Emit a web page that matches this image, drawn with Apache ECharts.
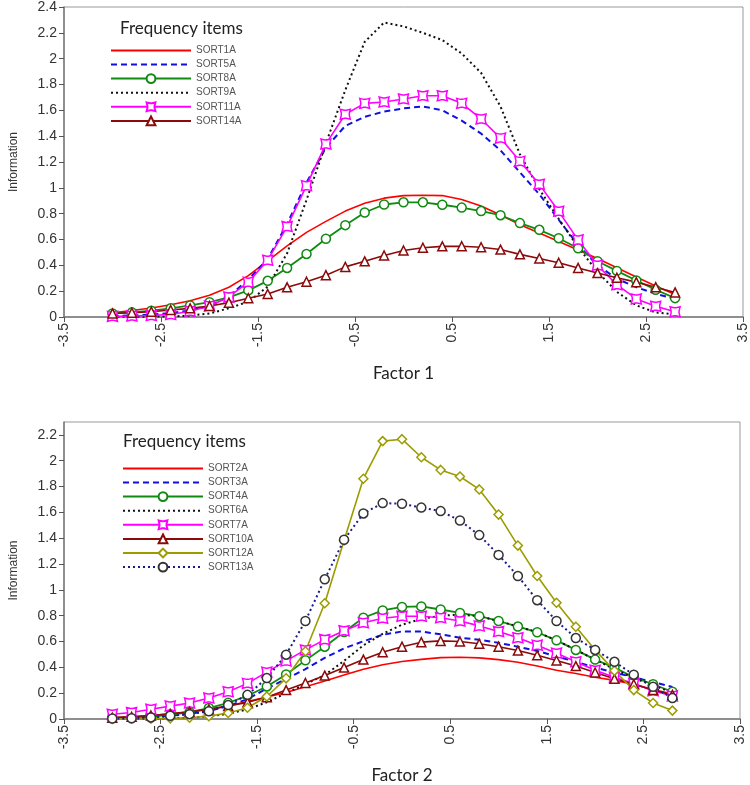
<!DOCTYPE html>
<html>
<head>
<meta charset="utf-8">
<script src="https://cdn.jsdelivr.net/npm/echarts@6/dist/echarts.min.js"></script>
<style>
html,body{margin:0;padding:0;background:#fff;}
#chart{width:750px;height:785px;}
</style>
</head>
<body>
<div id="chart"></div>
<script>
// ---- data ----
const xValues = [-3.0,-2.8,-2.6,-2.4,-2.2,-2.0,-1.8,-1.6,-1.4,-1.2,-1.0,-0.8,-0.6,-0.4,-0.2,0.0,0.2,0.4,0.6,0.8,1.0,1.2,1.4,1.6,1.8,2.0,2.2,2.4,2.6,2.8];
const xTickLabels = [-3.5,-2.5,-1.5,-0.5,0.5,1.5,2.5,3.5];
const yTicksTop = [0,0.2,0.4,0.6,0.8,1,1.2,1.4,1.6,1.8,2,2.2,2.4];
const yTicksBottom = [0,0.2,0.4,0.6,0.8,1,1.2,1.4,1.6,1.8,2,2.2];

// Factor 1
const SORT1A  = [0.033,0.05,0.07,0.095,0.126,0.168,0.23,0.32,0.435,0.55,0.655,0.74,0.82,0.88,0.92,0.94,0.942,0.94,0.91,0.86,0.79,0.715,0.65,0.584,0.519,0.453,0.382,0.31,0.24,0.175];
const SORT5A  = [0.008,0.012,0.018,0.03,0.05,0.085,0.16,0.29,0.45,0.72,1.04,1.31,1.48,1.55,1.59,1.615,1.63,1.6,1.52,1.42,1.29,1.12,0.95,0.753,0.557,0.40,0.296,0.231,0.179,0.14];
const SORT8A  = [0.028,0.036,0.049,0.067,0.09,0.115,0.152,0.206,0.28,0.38,0.488,0.606,0.711,0.809,0.871,0.888,0.888,0.869,0.847,0.82,0.788,0.727,0.675,0.61,0.532,0.432,0.357,0.283,0.211,0.146];
const SORT9A  = [0.001,0.002,0.003,0.005,0.01,0.028,0.067,0.119,0.235,0.493,0.906,1.345,1.757,2.13,2.28,2.25,2.2,2.144,2.04,1.89,1.63,1.26,0.99,0.76,0.54,0.35,0.195,0.09,0.035,0.02];
const SORT11A = [0.005,0.008,0.012,0.02,0.045,0.085,0.155,0.27,0.44,0.70,1.017,1.34,1.57,1.654,1.665,1.688,1.713,1.713,1.654,1.533,1.385,1.205,1.027,0.818,0.597,0.40,0.25,0.14,0.083,0.04];
const SORT14A = [0.028,0.033,0.041,0.054,0.067,0.085,0.111,0.145,0.178,0.23,0.273,0.324,0.388,0.431,0.476,0.515,0.536,0.547,0.548,0.54,0.522,0.485,0.453,0.42,0.38,0.34,0.304,0.27,0.231,0.19];

// Factor 2
const SORT2A  = [0.012,0.018,0.027,0.04,0.055,0.075,0.1,0.135,0.17,0.205,0.25,0.295,0.34,0.385,0.42,0.445,0.462,0.475,0.478,0.473,0.46,0.44,0.41,0.378,0.353,0.323,0.299,0.269,0.229,0.194];
const SORT3A  = [0.006,0.01,0.016,0.026,0.04,0.062,0.1,0.154,0.236,0.311,0.386,0.473,0.547,0.602,0.652,0.678,0.677,0.656,0.63,0.613,0.59,0.56,0.527,0.485,0.443,0.398,0.36,0.323,0.286,0.249];
const SORT4A  = [0.008,0.012,0.018,0.032,0.053,0.085,0.125,0.18,0.252,0.345,0.454,0.56,0.674,0.784,0.841,0.868,0.872,0.848,0.821,0.796,0.759,0.716,0.672,0.609,0.535,0.46,0.398,0.323,0.269,0.211];
const SORT6A  = [0.001,0.002,0.003,0.006,0.01,0.02,0.04,0.075,0.13,0.2,0.27,0.34,0.45,0.57,0.66,0.73,0.775,0.8,0.808,0.796,0.759,0.716,0.672,0.609,0.535,0.46,0.386,0.316,0.261,0.204];
const SORT7A  = [0.037,0.05,0.075,0.1,0.124,0.162,0.211,0.276,0.363,0.45,0.535,0.615,0.684,0.746,0.78,0.796,0.796,0.784,0.759,0.721,0.678,0.629,0.572,0.51,0.443,0.378,0.323,0.274,0.219,0.179];
const SORT10A = [0.01,0.017,0.027,0.04,0.055,0.075,0.1,0.129,0.169,0.224,0.279,0.336,0.398,0.46,0.517,0.56,0.595,0.605,0.6,0.583,0.56,0.53,0.493,0.453,0.41,0.36,0.311,0.269,0.224,0.187];
const SORT12A = [0.001,0.002,0.003,0.005,0.01,0.022,0.047,0.087,0.174,0.315,0.525,0.896,1.383,1.861,2.152,2.167,2.027,1.929,1.878,1.778,1.583,1.343,1.107,0.90,0.714,0.535,0.373,0.224,0.124,0.065];
const SORT13A = [0.004,0.006,0.012,0.025,0.037,0.06,0.108,0.187,0.317,0.498,0.759,1.082,1.388,1.592,1.672,1.667,1.637,1.61,1.537,1.424,1.271,1.107,0.92,0.759,0.627,0.535,0.443,0.343,0.249,0.162];

const topNames = ['SORT1A','SORT5A','SORT8A','SORT9A','SORT11A','SORT14A'];
const bottomNames = ['SORT2A','SORT3A','SORT4A','SORT6A','SORT7A','SORT10A','SORT12A','SORT13A'];
const noMarkerNames = ['SORT1A','SORT5A','SORT9A','SORT2A','SORT3A','SORT6A'];

// ---- styles ----
const bowtie = 'path://M0,0 L4,1 L6,1 L10,0 L9,4 L9,6 L10,10 L6,9 L4,9 L0,10 L1,6 L1,4 Z';
const styles = {
  red:     {color:'#ff0000', width:1.6, type:'solid', symbol:'none'},
  blue:    {color:'#1010e0', width:2, type:[6,4], symbol:'none'},
  green:   {color:'#108a10', width:1.8, type:'solid', symbol:'circle', size:9},
  black:   {color:'#111111', width:2, type:[2,3], symbol:'none'},
  magenta: {color:'#ff00ff', width:1.6, type:'solid', symbol:bowtie, size:10},
  darkred: {color:'#8b0a0a', width:1.6, type:'solid', symbol:'triangle', size:9},
  olive:   {color:'#9c9c00', width:1.6, type:'solid', symbol:'diamond', size:9},
  navy:    {color:'#1a1a8c', width:2, type:[2,3], symbol:'circle', size:9, markerColor:'#333333'}
};

function makeSeries(name, values, st, axisIndex) {
  return {
    name: name,
    type: 'line',
    xAxisIndex: axisIndex,
    yAxisIndex: axisIndex,
    data: xValues.map((x, i) => [x, values[i]]),
    symbol: st.symbol,
    symbolSize: st.size || 0,
    showSymbol: st.symbol !== 'none',
    lineStyle: {color: st.color, width: st.width, type: st.type},
    itemStyle: {color: '#ffffff', borderColor: st.markerColor || st.color, borderWidth: 1.5},
    color: st.color,
    animation: false,
    silent: true
  };
}

const series = [
  makeSeries('SORT1A', SORT1A, styles.red, 0),
  makeSeries('SORT5A', SORT5A, styles.blue, 0),
  makeSeries('SORT8A', SORT8A, styles.green, 0),
  makeSeries('SORT9A', SORT9A, styles.black, 0),
  makeSeries('SORT11A', SORT11A, styles.magenta, 0),
  makeSeries('SORT14A', SORT14A, styles.darkred, 0),
  makeSeries('SORT2A', SORT2A, styles.red, 1),
  makeSeries('SORT3A', SORT3A, styles.blue, 1),
  makeSeries('SORT4A', SORT4A, styles.green, 1),
  makeSeries('SORT6A', SORT6A, styles.black, 1),
  makeSeries('SORT7A', SORT7A, styles.magenta, 1),
  makeSeries('SORT10A', SORT10A, styles.darkred, 1),
  makeSeries('SORT12A', SORT12A, styles.olive, 1),
  makeSeries('SORT13A', SORT13A, styles.navy, 1)
];

const axisLineStyle = {color:'#7a7a7a', width:1.5};
const labelFont = {color:'#333333', fontSize:14, fontFamily:'Liberation Sans, Arial, sans-serif'};

function xAxisDef(gridIndex, nameText) {
  return {
    type:'value', gridIndex: gridIndex, min:-3.5, max:3.5,
    name: nameText, nameLocation:'middle', nameGap:48,
    nameTextStyle:{fontFamily:'Lato, sans-serif', fontSize:17, color:'#222'},
    axisLine:{show:true, onZero:false, lineStyle:axisLineStyle},
    axisTick:{show:true, length:5, customValues:xTickLabels, lineStyle:{color:'#555'}},
    axisLabel:Object.assign({rotate:90, margin:6, customValues:xTickLabels}, labelFont),
    splitLine:{show:false}
  };
}
function yAxisDef(gridIndex, max, ticks) {
  return {
    type:'value', gridIndex: gridIndex, min:0, max:max,
    name:'Information', nameLocation:'middle', nameGap:44,
    nameTextStyle:{fontFamily:'Liberation Sans, Arial, sans-serif', fontSize:12, color:'#333'},
    axisLine:{show:true, onZero:false, lineStyle:axisLineStyle},
    axisTick:{show:true, length:5, customValues:ticks, lineStyle:{color:'#555'}},
    axisLabel:Object.assign({margin:7, customValues:ticks}, labelFont),
    splitLine:{show:false}
  };
}

function legendData(names) {
  return names.map(n => noMarkerNames.indexOf(n) >= 0 ? {name:n, itemStyle:{opacity:0}} : {name:n});
}

const legendText = {fontSize:10, color:'#555', fontFamily:'Liberation Sans, Arial, sans-serif'};

const option = {
  animation:false,
  backgroundColor:'#ffffff',
  title:[
    {text:'Frequency items', left:120, top:20, padding:0,
     textStyle:{fontFamily:'Lato, sans-serif', fontSize:17, fontWeight:'normal', color:'#222'}},
    {text:'Frequency items', left:123, top:433, padding:0,
     textStyle:{fontFamily:'Lato, sans-serif', fontSize:17, fontWeight:'normal', color:'#222'}}
  ],
  legend:[
    {data:legendData(topNames), orient:'vertical', left:110, top:45, padding:0,
     itemWidth:80, itemHeight:11, itemGap:3.3, textStyle:legendText, selectedMode:false},
    {data:legendData(bottomNames), orient:'vertical', left:122, top:463, padding:0,
     itemWidth:80, itemHeight:11, itemGap:3.3, textStyle:legendText, selectedMode:false}
  ],
  grid:[
    {left:59, right:3, top:7, height:310, show:true, borderColor:'#999', borderWidth:1, backgroundColor:'transparent'},
    {left:60, right:10, top:422, height:308, show:true, borderColor:'#999', borderWidth:1, backgroundColor:'transparent'}
  ],
  xAxis:[xAxisDef(0,'Factor 1'), xAxisDef(1,'Factor 2')],
  yAxis:[yAxisDef(0,2.4,yTicksTop), yAxisDef(1,2.3,yTicksBottom)],
  series: series
};

const chart = echarts.init(document.getElementById('chart'), null, {renderer:'canvas'});
chart.setOption(option);
</script>
</body>
</html>
